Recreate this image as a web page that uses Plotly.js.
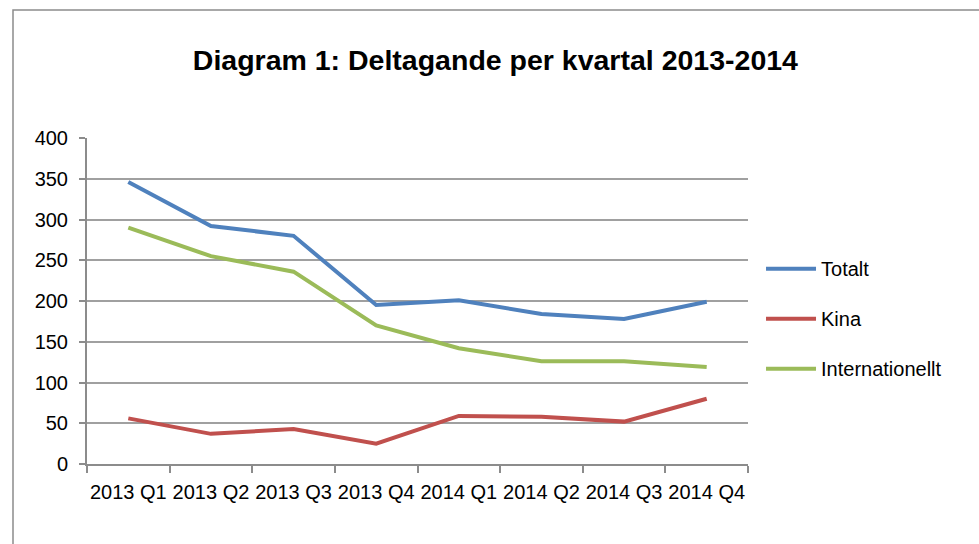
<!DOCTYPE html>
<html>
<head>
<meta charset="utf-8">
<script src="https://cdn.plot.ly/plotly-3.0.1.min.js"></script>
<style>
html,body{margin:0;padding:0;background:#fff;}
#chart{width:979px;height:544px;}
</style>
</head>
<body>
<div id="chart"></div>
<script>
const categories = ["2013 Q1","2013 Q2","2013 Q3","2013 Q4","2014 Q1","2014 Q2","2014 Q3","2014 Q4"];
const totalt = [346, 292, 280, 195, 201, 184, 178, 199];
const kina = [56, 37, 43, 25, 59, 58, 52, 80];
const internationellt = [290, 255, 236, 170, 142, 126, 126, 119];
const seriesNames = ["Totalt","Kina","Internationellt"];
const yTicks = [0,50,100,150,200,250,300,350,400];

const colors = ["#4F81BD","#C0504D","#9BBB59"];
const data = [totalt, kina, internationellt].map((vals, i) => ({
  type: "scatter",
  mode: "lines",
  x: categories,
  y: vals,
  name: seriesNames[i],
  legendgroup: "g" + i,
  line: {color: colors[i], width: 4}
}));

const layout = {
  width: 979, height: 544,
  margin: {l: 87, r: 231, t: 138, b: 80},
  paper_bgcolor: "#ffffff",
  plot_bgcolor: "#ffffff",
  font: {family: "Liberation Sans, Arial, sans-serif", color: "#000"},
  title: {
    text: "<b>Diagram 1: Deltagande per kvartal 2013-2014</b>",
    font: {size: 28.5, family: "Liberation Sans, Arial, sans-serif", color: "#000"},
    x: 0.506, xref: "container", xanchor: "center",
    y: 1 - 60/544, yref: "container", yanchor: "middle"
  },
  xaxis: {
    type: "category",
    tickson: "boundaries",
    tickangle: 0,
    ticks: "outside", ticklen: 7, tickwidth: 2, tickcolor: "#8c8c8c",
    ticklabelstandoff: 9,
    showline: true, linecolor: "#8c8c8c", linewidth: 2,
    showgrid: false, zeroline: false,
    tickfont: {size: 20, color: "#000"},
    range: [-0.5, 7.5]
  },
  yaxis: {
    range: [0, 400],
    tickvals: yTicks,
    ticks: "outside", ticklen: 6, tickwidth: 2, tickcolor: "#8c8c8c",
    ticklabelstandoff: 7,
    showline: true, linecolor: "#8c8c8c", linewidth: 2,
    showgrid: true, gridcolor: "#a0a0a0", gridwidth: 2,
    zeroline: false,
    tickfont: {size: 20, color: "#000"}
  },
  showlegend: true,
  legend: {
    x: 1.0197, xanchor: "left", y: 0.659, yanchor: "top",
    font: {size: 20, color: "#000"},
    tracegroupgap: 21,
    traceorder: "grouped",
    itemwidth: 50,
    bgcolor: "rgba(0,0,0,0)"
  },
  shapes: [{
    type: "rect", xref: "paper", yref: "paper",
    x0: (13-87)/661, x1: 2, y0: -1, y1: (464-10)/326,
    line: {color: "#8c8c8c", width: 1.5}, fillcolor: "rgba(0,0,0,0)", layer: "below"
  }]
};

Plotly.newPlot("chart", data, layout, {displayModeBar: false, staticPlot: true});
</script>
</body>
</html>
